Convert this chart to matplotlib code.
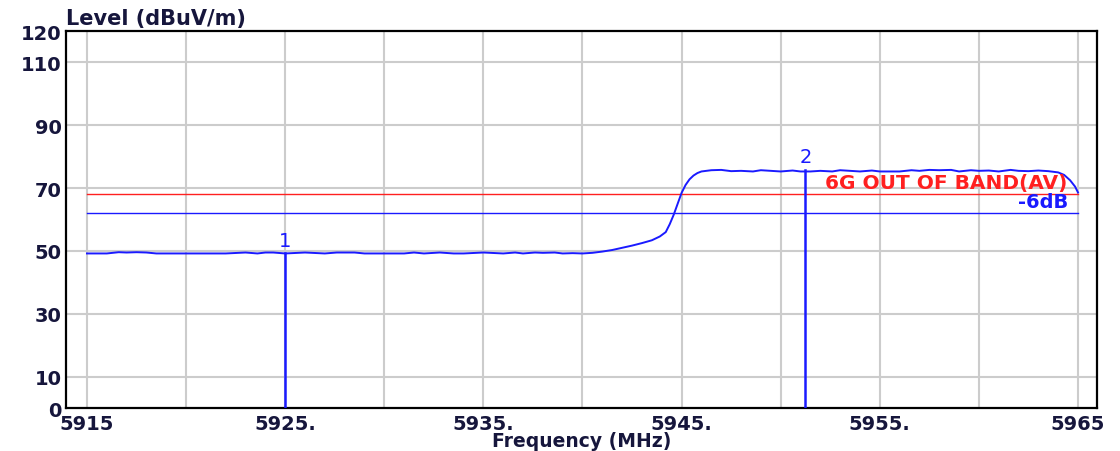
import numpy as np
import matplotlib
matplotlib.use('Agg')
import matplotlib.pyplot as plt

# measured trace (MHz, dBuV/m)
freq = [5915.0, 5915.5, 5916.0, 5916.6, 5917.0, 5917.5, 5918.0, 5918.5, 5919.0, 5920.0,
        5921.0, 5922.0, 5923.0, 5923.6, 5924.0, 5924.4, 5925.0, 5926.0, 5927.0, 5927.6,
        5928.5, 5929.0, 5930.0, 5931.0, 5931.5, 5932.0, 5932.8, 5933.5, 5934.0, 5935.0,
        5936.0, 5936.6, 5937.0, 5937.6, 5938.0, 5938.6, 5939.0, 5939.5, 5940.0, 5940.5,
        5941.0, 5941.5, 5942.0, 5942.5, 5943.0, 5943.5, 5943.9, 5944.2, 5944.4, 5944.6,
        5944.8, 5945.0, 5945.2, 5945.4, 5945.6, 5945.8, 5946.0, 5946.5, 5947.0, 5947.5,
        5948.0, 5948.6, 5949.0, 5950.0, 5950.6, 5951.0, 5951.5, 5952.0, 5952.6, 5953.0,
        5954.0, 5954.6, 5955.0, 5956.0, 5956.6, 5957.0, 5957.5, 5958.0, 5958.6, 5959.0,
        5959.6, 5960.0, 5960.5, 5961.0, 5961.6, 5962.0, 5962.5, 5963.0, 5963.5, 5964.0,
        5964.3, 5964.6, 5964.85, 5965.0]
level = [49.2, 49.2, 49.2, 49.6, 49.5, 49.6, 49.5, 49.2, 49.2, 49.2,
         49.2, 49.2, 49.5, 49.2, 49.5, 49.5, 49.2, 49.5, 49.2, 49.5,
         49.5, 49.2, 49.2, 49.2, 49.5, 49.2, 49.5, 49.2, 49.2, 49.5,
         49.2, 49.5, 49.2, 49.5, 49.4, 49.5, 49.2, 49.3, 49.2, 49.4,
         49.8, 50.3, 51.0, 51.7, 52.5, 53.4, 54.6, 56.0, 58.5, 61.5,
         65.0, 68.5, 71.0, 72.8, 74.0, 74.8, 75.3, 75.7, 75.8, 75.4,
         75.5, 75.3, 75.7, 75.3, 75.6, 75.3, 75.3, 75.5, 75.3, 75.7,
         75.3, 75.6, 75.3, 75.3, 75.7, 75.5, 75.8, 75.7, 75.8, 75.3,
         75.7, 75.5, 75.6, 75.3, 75.8, 75.5, 75.4, 75.6, 75.4, 75.0,
         74.2, 72.5, 70.5, 68.6]

limit_level = 68.2
margin_level = 62.2
limit_label = '6G OUT OF BAND(AV)'
margin_label = '-6dB'

marker_freq = [5925.0, 5951.25]
marker_level = [49.2, 75.8]
marker_names = ['1', '2']

xticks = [5915, 5925, 5935, 5945, 5955, 5965]
xtick_labels = ['5915', '5925.', '5935.', '5945.', '5955.', '5965']
yticks = [0, 10, 30, 50, 70, 90, 110, 120]
xgrid = [5915, 5920, 5925, 5930, 5935, 5940, 5945, 5950, 5955, 5960, 5965]
ygrid = [10, 30, 50, 70, 90, 110]

navy = '#16163c'
blue = '#1a1aff'
red = '#ff2020'

plt.rcParams['font.family'] = ['DejaVu Sans']

fig = plt.figure(figsize=(11.2, 4.52), dpi=100)
ax = fig.add_axes([0.0589, 0.0951, 0.9206, 0.8340])

for g in xgrid:
    ax.axvline(g, color='#cccccc', lw=1.5, zorder=0)
for g in ygrid:
    ax.axhline(g, color='#cccccc', lw=1.5, zorder=0)

ax.plot(freq, level, color=blue, lw=1.4, zorder=3)

ax.plot([freq[0], freq[-1]], [limit_level, limit_level], color=red, lw=1.0, zorder=2)
ax.plot([freq[0], freq[-1]], [margin_level, margin_level], color=blue, lw=1.0, zorder=2)
ax.text(5964.45, limit_level + 0.6, limit_label, color=red, fontsize=14.5,
        fontweight='bold', ha='right', va='bottom', zorder=4)
ax.text(5964.5, margin_level + 0.4, margin_label, color=blue, fontsize=14,
        fontweight='bold', ha='right', va='bottom', zorder=4)

for f, l, n in zip(marker_freq, marker_level, marker_names):
    ax.plot([f, f], [0, l], color=blue, lw=1.8, zorder=3)
    ax.text(f, l + 1.2, n, color=blue, fontsize=14, ha='center', va='bottom', zorder=4)

ax.set_xlim(5913.94, 5965.96)
ax.set_ylim(0, 120)
ax.set_xticks(xticks)
ax.set_xticklabels(xtick_labels)
ax.set_yticks(yticks)
ax.tick_params(length=0, labelsize=14, labelcolor=navy, pad=3)
ax.tick_params(axis='x', pad=4)
for lab in ax.get_xticklabels() + ax.get_yticklabels():
    lab.set_fontweight('bold')

for s in ax.spines.values():
    s.set_linewidth(1.6)
    s.set_color('black')

fig.text(0.5195, 0.002, 'Frequency (MHz)', fontsize=13.5, fontweight='bold', color=navy,
         ha='center', va='bottom')
ax.text(0.0, 1.008, 'Level (dBuV/m)', transform=ax.transAxes, fontsize=15,
        fontweight='bold', color=navy, ha='left', va='bottom')

fig.savefig('out.png', dpi=100, facecolor='white')
